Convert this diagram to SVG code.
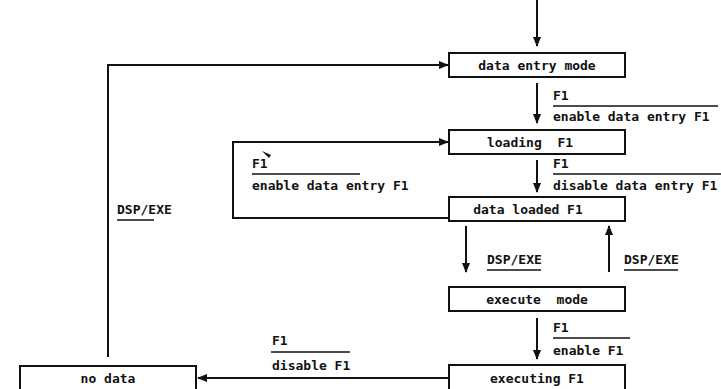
<svg xmlns="http://www.w3.org/2000/svg" width="721" height="389" viewBox="0 0 721 389">
<style>
text{font-family:"DejaVu Sans Mono","Liberation Mono",monospace;font-weight:bold;font-size:13px;fill:#111}
.box{fill:#fff;stroke:#111;stroke-width:2}
.c{text-anchor:middle}
.ln{fill:none;stroke:#111;stroke-width:2}
.ul{stroke:#111;stroke-width:1.6}
</style>
<defs>
<marker id="ah" markerWidth="10" markerHeight="8" refX="9" refY="4" orient="auto" markerUnits="userSpaceOnUse">
<path d="M0,0 L10,4 L0,8 Z" fill="#111"/>
</marker>
</defs>
<rect width="721" height="389" fill="#fff"/>
<g id="connectors">
<line class="ln" x1="537" y1="0" x2="537" y2="46" marker-end="url(#ah)"/>
<polyline class="ln" points="108,357 108,65 448,65" marker-end="url(#ah)"/>
<line class="ln" x1="537" y1="83" x2="537" y2="123" marker-end="url(#ah)"/>
<polyline class="ln" points="448,218 233,218 233,142 448,142" marker-end="url(#ah)"/>
<line class="ln" x1="537" y1="160" x2="537" y2="192" marker-end="url(#ah)"/>
<line class="ln" x1="466" y1="226" x2="466" y2="272" marker-end="url(#ah)"/>
<line class="ln" x1="609" y1="272" x2="609" y2="226" marker-end="url(#ah)"/>
<line class="ln" x1="537" y1="318" x2="537" y2="359" marker-end="url(#ah)"/>
<line class="ln" x1="449" y1="378" x2="198" y2="378" marker-end="url(#ah)"/>
<path d="M262,151 L271,155 L269,158 Z" fill="#111"/>
</g>
<g id="labels">
<text x="553" y="100">F1</text>
<line class="ul" x1="553" y1="106" x2="718" y2="106"/>
<text x="553" y="121">enable data entry F1</text>
<text x="553" y="168">F1</text>
<line class="ul" x1="553" y1="174" x2="721" y2="174"/>
<text x="553" y="190">disable data entry F1</text>
<text x="252" y="168">F1</text>
<line class="ul" x1="252" y1="174" x2="360" y2="174"/>
<text x="252" y="190">enable data entry F1</text>
<text x="117" y="214">DSP/EXE</text>
<line class="ul" x1="117" y1="220" x2="154" y2="220"/>
<text x="487" y="264">DSP/EXE</text>
<line class="ul" x1="487" y1="270" x2="541" y2="270"/>
<text x="624" y="264">DSP/EXE</text>
<line class="ul" x1="624" y1="270" x2="678" y2="270"/>
<text x="553" y="332">F1</text>
<line class="ul" x1="553" y1="338" x2="630" y2="338"/>
<text x="553" y="355">enable F1</text>
<text x="272" y="345">F1</text>
<line class="ul" x1="271" y1="352" x2="350" y2="352"/>
<text x="272" y="370">disable F1</text>
</g>
<g id="n-data-entry-mode"><rect class="box" x="449" y="53" width="176" height="24"/><text class="c" x="537" y="70">data entry mode</text></g>
<g id="n-loading"><rect class="box" x="449" y="130" width="176" height="24"/><text class="c" x="530" y="147" xml:space="preserve">loading  F1</text></g>
<g id="n-data-loaded"><rect class="box" x="449" y="197" width="176" height="24"/><text class="c" x="528" y="214">data loaded F1</text></g>
<g id="n-execute-mode"><rect class="box" x="449" y="287" width="176" height="24"/><text class="c" x="537" y="304" xml:space="preserve">execute  mode</text></g>
<g id="n-executing"><rect class="box" x="449" y="365" width="176" height="30"/><text class="c" x="537" y="383">executing F1</text></g>
<g id="n-no-data"><rect class="box" x="20" y="366" width="176" height="30"/><text class="c" x="108" y="383">no data</text></g>
</svg>
